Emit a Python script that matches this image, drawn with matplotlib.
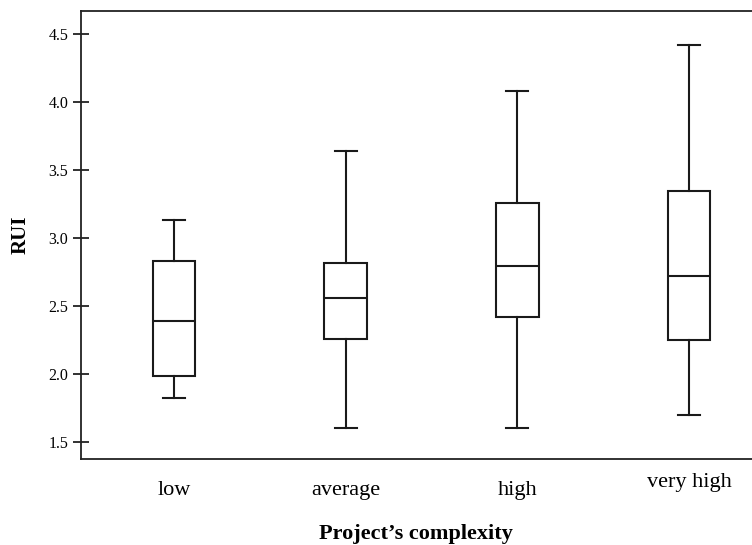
import matplotlib.pyplot as plt
from matplotlib.transforms import ScaledTranslation

categories = ["low", "average", "high", "very high"]
whisker_low = [1.828, 1.603, 1.603, 1.698]
q1 = [1.990, 2.260, 2.419, 2.252]
medians = [2.394, 2.559, 2.799, 2.725]
q3 = [2.833, 2.818, 3.257, 3.350]
whisker_high = [3.135, 3.644, 4.083, 4.421]
yticks = [1.5, 2.0, 2.5, 3.0, 3.5, 4.0, 4.5]

plt.rcParams['font.family'] = ['Liberation Serif', 'DejaVu Serif']

stats = []
for i, name in enumerate(categories):
    stats.append({
        "label": name,
        "whislo": whisker_low[i],
        "q1": q1[i],
        "med": medians[i],
        "q3": q3[i],
        "whishi": whisker_high[i],
        "fliers": [],
    })

fig = plt.figure(figsize=(7.52, 5.45), dpi=100)
ax = fig.add_axes([0.1073, 0.1578, 0.8927, 0.8226])

line_col = "#1a1a1a"
ax.bxp(stats, positions=[1, 2, 3, 4], widths=0.25, capwidths=0.13,
       showfliers=False, patch_artist=True,
       boxprops=dict(facecolor="white", edgecolor=line_col, linewidth=1.5),
       medianprops=dict(color=line_col, linewidth=1.5),
       whiskerprops=dict(color=line_col, linewidth=1.5),
       capprops=dict(color=line_col, linewidth=1.5))

ax.set_xlim(0.4565, 4.367)
ax.set_ylim(1.377, 4.674)
ax.set_yticks(yticks)
ax.set_yticklabels(["%.1f" % v for v in yticks])

ax.spines["right"].set_visible(False)
for s in ["left", "top", "bottom"]:
    ax.spines[s].set_color("#222222")
    ax.spines[s].set_linewidth(1.3)

ax.tick_params(axis="y", direction="inout", length=12, width=1.3,
               color="#222222", labelsize=11.5, pad=3)
ax.tick_params(axis="x", length=0, labelsize=16, pad=16)

# "very high" sits a little higher than the other labels
lbl = ax.get_xticklabels()[3]
lbl.set_transform(lbl.get_transform() + ScaledTranslation(0, 6 / 72, fig.dpi_scale_trans))

ax.set_xlabel("Project\u2019s complexity", fontsize=16, fontweight="bold", labelpad=17)
ax.set_ylabel("RUI", fontsize=15, fontweight="bold", labelpad=13)

fig.savefig("out.png", dpi=100)
